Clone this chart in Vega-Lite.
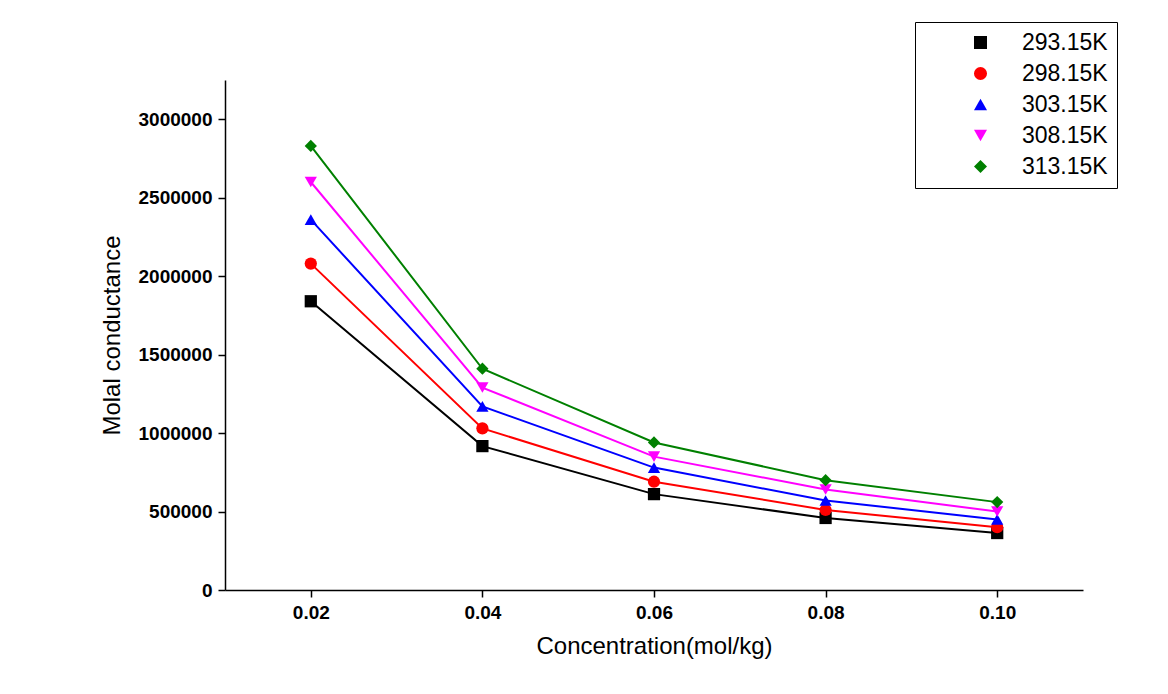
{
"$schema":"https://vega.github.io/schema/vega-lite/v6.json",
"width":858,"height":510,
"autosize":{"type":"none"},
"padding":{"left":225,"top":80,"right":85,"bottom":104},
"background":"white",
"config":{"view":{"stroke":null},"font":"Liberation Sans"},
"data":{"values":[
{"c":0.02,"v":1840000,"t":"293.15K"},{"c":0.04,"v":917000,"t":"293.15K"},{"c":0.06,"v":611000,"t":"293.15K"},{"c":0.08,"v":459000,"t":"293.15K"},{"c":0.10,"v":363000,"t":"293.15K"},
{"c":0.02,"v":2080000,"t":"298.15K"},{"c":0.04,"v":1030000,"t":"298.15K"},{"c":0.06,"v":690000,"t":"298.15K"},{"c":0.08,"v":510000,"t":"298.15K"},{"c":0.10,"v":400000,"t":"298.15K"},
{"c":0.02,"v":2360000,"t":"303.15K"},{"c":0.04,"v":1170000,"t":"303.15K"},{"c":0.06,"v":780000,"t":"303.15K"},{"c":0.08,"v":570000,"t":"303.15K"},{"c":0.10,"v":450000,"t":"303.15K"},
{"c":0.02,"v":2600000,"t":"308.15K"},{"c":0.04,"v":1290000,"t":"308.15K"},{"c":0.06,"v":850000,"t":"308.15K"},{"c":0.08,"v":640000,"t":"308.15K"},{"c":0.10,"v":500000,"t":"308.15K"},
{"c":0.02,"v":2830000,"t":"313.15K"},{"c":0.04,"v":1410000,"t":"313.15K"},{"c":0.06,"v":940000,"t":"313.15K"},{"c":0.08,"v":700000,"t":"313.15K"},{"c":0.10,"v":560000,"t":"313.15K"}
]},
"encoding":{
"x":{"field":"c","type":"quantitative","scale":{"domain":[0.01,0.11],"nice":false},
"axis":{"values":[0.02,0.04,0.06,0.08,0.10],"format":".2f","labelFontWeight":"bold","labelFontSize":19,"labelColor":"black","labelPadding":6,"tickSize":7,"tickWidth":1.5,"domainWidth":1.5,"domainColor":"black","tickColor":"black","grid":false,"title":"Concentration(mol/kg)","titleFontSize":24,"titleFontWeight":"normal","titlePadding":12}},
"y":{"field":"v","type":"quantitative","scale":{"domain":[0,3250000],"nice":false},
"axis":{"values":[0,500000,1000000,1500000,2000000,2500000,3000000],"format":"d","labelFontWeight":"bold","labelFontSize":19,"labelColor":"black","labelPadding":6,"tickSize":7,"tickWidth":1.5,"domainWidth":1.5,"domainColor":"black","tickColor":"black","grid":false,"title":"Molal conductance","titleFontSize":24,"titleFontWeight":"normal","titlePadding":14}},
"color":{"field":"t","type":"nominal","scale":{"range":["black","red","blue","magenta","green"]},
"legend":{"orient":"none","legendX":690,"legendY":-58,"title":null,"labelFontSize":23,"labelColor":"black","symbolSize":170,"rowPadding":7,"strokeColor":"black","padding":9,"fillColor":"white","symbolStrokeWidth":0,"labelLimit":300,"symbolOffset":45,"labelOffset":30,
"encode":{"symbols":{"update":{"shape":{"scale":"shape","field":"value"},"fill":{"scale":"color","field":"value"}}}}}},
"shape":{"field":"t","type":"nominal","scale":{"range":["square","circle","triangle-up","triangle-down","diamond"]},"legend":null}
},
"layer":[
{"mark":{"type":"line","strokeWidth":2}},
{"mark":{"type":"point","filled":true,"size":150,"opacity":1}}
]
}
